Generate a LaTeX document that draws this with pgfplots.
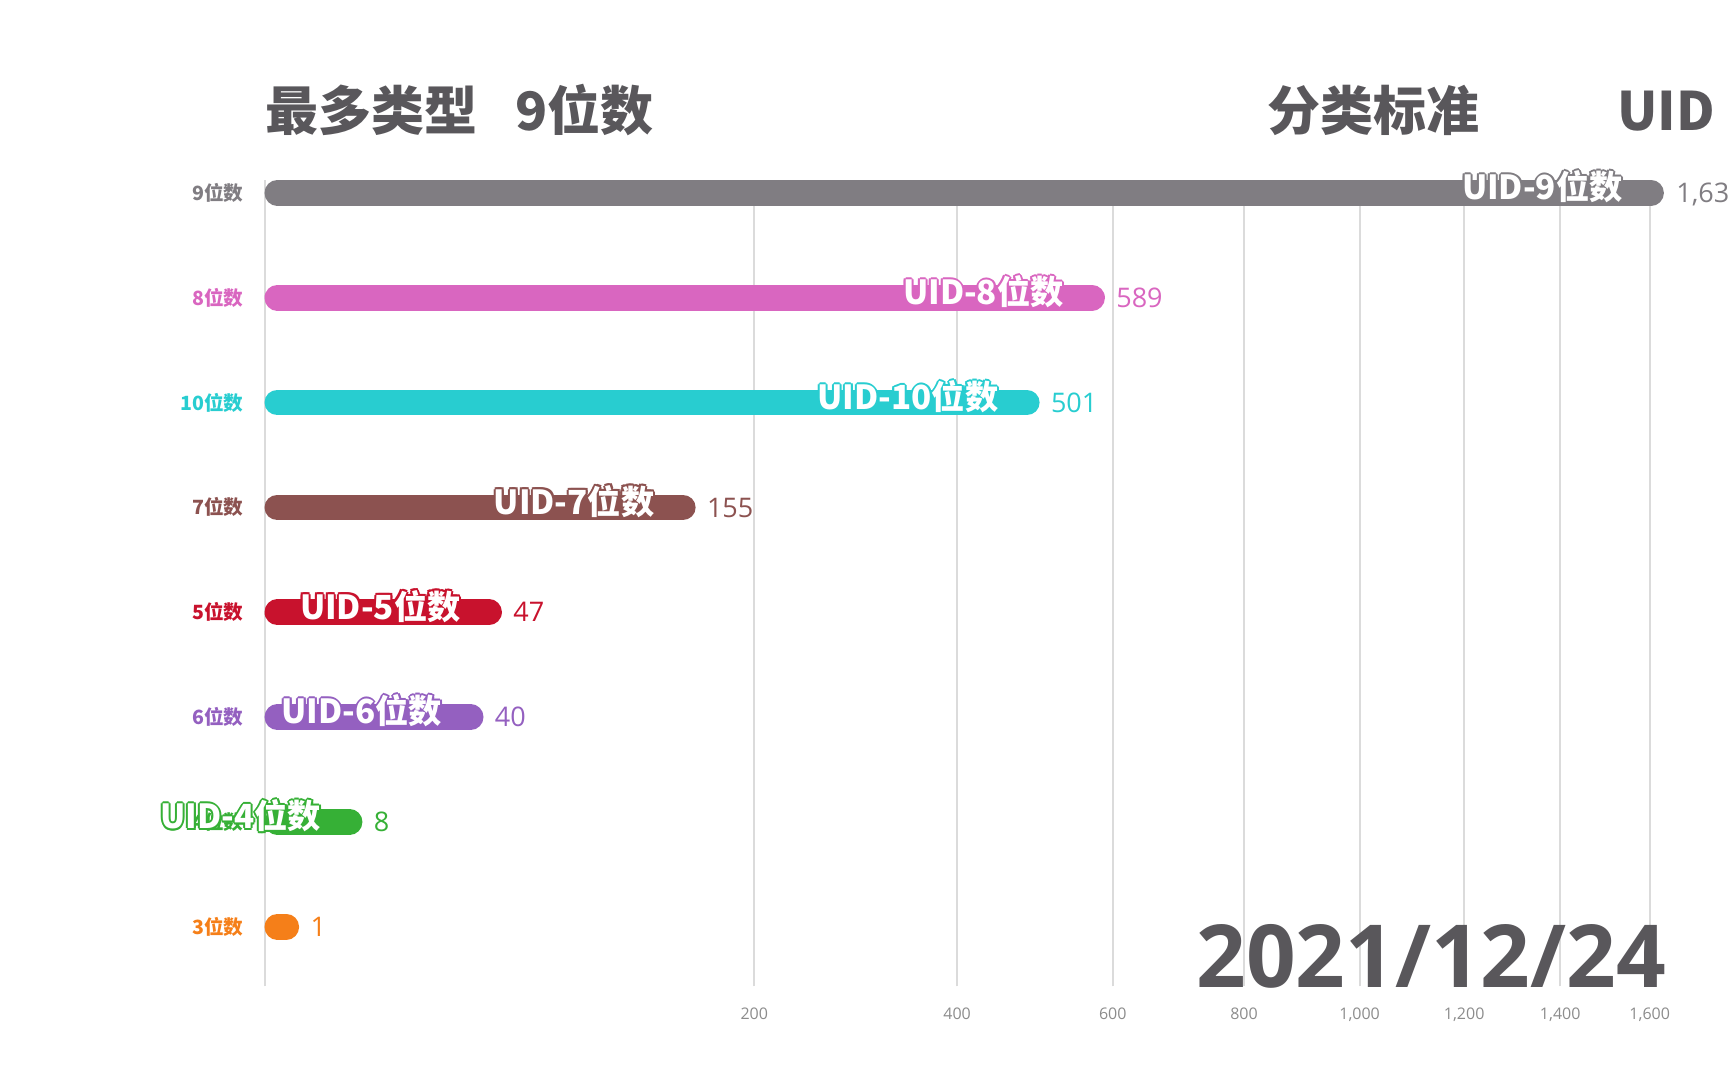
\documentclass[border=0pt]{standalone}
\usepackage{pgfplots}
\pgfplotsset{compat=1.18}
\usepackage{fontspec}
\setmainfont{Open Sans}
\newfontfamily\cjk{Noto Sans CJK SC}
\definecolor{c9}{HTML}{807D82}
\definecolor{c8}{HTML}{D966C0}
\definecolor{c10}{HTML}{28CDD0}
\definecolor{c7}{HTML}{8C5250}
\definecolor{c5}{HTML}{C8122D}
\definecolor{c6}{HTML}{9460C0}
\definecolor{c4}{HTML}{36B036}
\definecolor{c3}{HTML}{F57F19}
\definecolor{ttl}{HTML}{59575B}
\definecolor{tick}{HTML}{8C8C8C}
\tikzset{
  barl/.style={draw=#1, mark=none, line width=12.8pt, line cap=round, shorten <=6.4pt, shorten >=6.4pt},
  vall/.style={anchor=west, inner sep=0pt, xshift=5.5pt, text=#1, text depth=0pt, font=\fontsize{13.5}{15}\selectfont},
  inl/.style={anchor=east, inner sep=0pt, xshift=-20.5pt, yshift=3pt, font=\cjk\bfseries\fontsize{16.6}{18}\selectfont},
}
\pgfplotsset{
  vlab/.style 2 args={draw=none, mark=none, nodes near coords={#2}, every node near coord/.style={vall=#1}},
  olp/.style n args={4}{draw=none, mark=none, nodes near coords={#2}, every node near coord/.style={inl, text=#1, xshift=#3, yshift=#4}},
}
% #1 value, #2 y, #3 colour, #4 text
\newcommand{\ilabel}[4]{%
  \addplot[olp={#3}{#4}{1pt}{0pt}] coordinates {(#1,#2)};
  \addplot[olp={#3}{#4}{-1pt}{0pt}] coordinates {(#1,#2)};
  \addplot[olp={#3}{#4}{0pt}{1pt}] coordinates {(#1,#2)};
  \addplot[olp={#3}{#4}{0pt}{-1pt}] coordinates {(#1,#2)};
  \addplot[olp={#3}{#4}{0.7pt}{0.7pt}] coordinates {(#1,#2)};
  \addplot[olp={#3}{#4}{-0.7pt}{0.7pt}] coordinates {(#1,#2)};
  \addplot[olp={#3}{#4}{0.7pt}{-0.7pt}] coordinates {(#1,#2)};
  \addplot[olp={#3}{#4}{-0.7pt}{-0.7pt}] coordinates {(#1,#2)};
  \addplot[olp={white}{#4}{0pt}{0pt}] coordinates {(#1,#2)};
}
\begin{document}
\begin{tikzpicture}
\path (0,0) rectangle (864pt,540pt);
\begin{axis}[
  set layers,
  at={(132.25pt,46.85pt)}, anchor=south west,
  scale only axis, width=692.6pt, height=403.15pt,
  xmin=0, xmax=40, ymin=-0.5675, ymax=7.123,
  x filter/.expression={sqrt(x)},
  clip=false,
  axis line style={draw=none},
  major tick length=0pt,
  tick style={draw=none},
  xtick={14.1421,20,24.4949,28.2843,31.6228,34.6410,37.4166,40},
  xticklabels={200,400,600,800,{1,000},{1,200},{1,400},{1,600}},
  xticklabel style={anchor=base, yshift=-16.7pt, text=tick, font=\fontsize{8}{9}\selectfont},
  xmajorgrids,
  major grid style={draw=black!14, line width=1pt},
  extra x ticks={0},
  extra x tick labels={},
  extra x tick style={grid style={draw=black!30, line width=0.75pt}},
  ytick={0,1,2,3,4,5,6,7},
  yticklabels={\textcolor{c3}{3位数},\textcolor{c4}{4位数},\textcolor{c6}{6位数},\textcolor{c5}{5位数},\textcolor{c7}{7位数},\textcolor{c10}{10位数},\textcolor{c8}{8位数},\textcolor{c9}{9位数}},
  yticklabel style={anchor=east, xshift=-7pt, font=\cjk\bfseries\fontsize{9.8}{11}\selectfont},
]
\addplot[barl=c9]  coordinates {(0,7) (1633,7)};
\addplot[barl=c8]  coordinates {(0,6) (589,6)};
\addplot[barl=c10] coordinates {(0,5) (501,5)};
\addplot[barl=c7]  coordinates {(0,4) (155,4)};
\addplot[barl=c5]  coordinates {(0,3) (47,3)};
\addplot[barl=c6]  coordinates {(0,2) (40,2)};
\addplot[barl=c4]  coordinates {(0,1) (8,1)};
\addplot[barl=c3]  coordinates {(0,0) (1,0)};

\addplot[vlab={c9}{\rlap{1,633}}] coordinates {(1633,7)};
\addplot[vlab={c8}{589}]   coordinates {(589,6)};
\addplot[vlab={c10}{501}]  coordinates {(501,5)};
\addplot[vlab={c7}{155}]   coordinates {(155,4)};
\addplot[vlab={c5}{47}]    coordinates {(47,3)};
\addplot[vlab={c6}{40}]    coordinates {(40,2)};
\addplot[vlab={c4}{8}]     coordinates {(8,1)};
\addplot[vlab={c3}{1}]     coordinates {(1,0)};

\ilabel{1633}{7}{c9}{UID-9位数}
\ilabel{589}{6}{c8}{UID-8位数}
\ilabel{501}{5}{c10}{UID-10位数}
\ilabel{155}{4}{c7}{UID-7位数}
\ilabel{47}{3}{c5}{UID-5位数}
\ilabel{40}{2}{c6}{UID-6位数}
\ilabel{8}{1}{c4}{UID-4位数}
\end{axis}
\node[anchor=base west, inner sep=0pt, text=ttl, font=\cjk\bfseries\fontsize{26.5}{30}\selectfont] at (132.5pt,474.5pt) {最多类型};
\node[anchor=base west, inner sep=0pt, text=ttl, font=\cjk\bfseries\fontsize{26.5}{30}\selectfont] at (257.5pt,474.5pt) {9位数};
\node[anchor=base west, inner sep=0pt, text=ttl, font=\cjk\bfseries\fontsize{26.5}{30}\selectfont] at (633.5pt,474.5pt) {分类标准};
\node[anchor=base west, inner sep=0pt, text=ttl, font=\cjk\bfseries\fontsize{26.5}{30}\selectfont] at (808.5pt,474.5pt) {UID};
\node[anchor=base east, inner sep=0pt, text=ttl, font=\bfseries\fontsize{43.5}{48}\selectfont] at (833pt,46pt) {2021/12/24};
\end{tikzpicture}
\end{document}
